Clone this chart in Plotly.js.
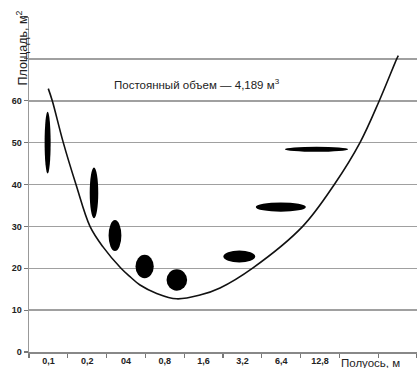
<!DOCTYPE html>
<html>
<head>
<meta charset="utf-8">
<script src="https://cdn.plot.ly/plotly-3.0.1.min.js"></script>
<style>html,body{margin:0;padding:0;background:#fff;}#chart{width:417px;height:368px;}</style>
</head>
<body>
<div id="chart"></div>
<script>
// X categories (semi-axis, m) — bins 0..9 on a linear axis
const categories = ['0,1', '0,2', '04', '0,8', '1,6', '3,2', '6,4', '12,8'];
const categoryPos = [0.5, 1.5, 2.5, 3.5, 4.5, 5.5, 6.5, 7.5];
// Y ticks
const yTickVals = [0, 10, 20, 30, 40, 50, 60, 70, 80];
const yTickText = ['0', '10', '20', '30', '40', '50', '60', ' ', ' '];
// Area curve (constant volume)
const curveX = [0.497, 0.60, 0.884, 1.211, 1.572, 1.907, 2.371, 2.603, 2.861, 3.291, 3.807, 4.407, 4.923, 5.773, 7.054, 7.869, 8.531, 9.028, 9.477, 9.518];
const curveY = [62.9, 60.0, 50.0, 40.0, 30.0, 25.1, 20.0, 18.0, 16.0, 14.0, 12.7, 13.6, 15.3, 20.1, 30.0, 40.0, 50.0, 60.0, 70.0, 70.8];
// Ellipses (center x, center y, width, height in axis units)
const ellX = [0.48, 1.675, 2.216, 2.98, 3.81, 5.42, 6.49, 7.41];
const ellY = [50.0, 38.0, 27.8, 20.4, 17.2, 22.8, 34.6, 48.4];
const ellW = [0.155, 0.22, 0.33, 0.47, 0.53, 0.82, 1.29, 1.63];
const ellH = [14.8, 12.1, 7.4, 5.6, 5.1, 2.9, 2.2, 1.2];

const shapes = ellX.map((cx, i) => ({
  type: 'circle', xref: 'x', yref: 'y',
  x0: cx - ellW[i] / 2, x1: cx + ellW[i] / 2,
  y0: ellY[i] - ellH[i] / 2, y1: ellY[i] + ellH[i] / 2,
  fillcolor: '#000', line: {width: 0}
}));

const traces = [{
  x: curveX, y: curveY, type: 'scatter', mode: 'lines',
  line: {color: '#111', width: 1.6, shape: 'spline', smoothing: 1},
  hoverinfo: 'skip', showlegend: false
}];

const layout = {
  width: 417, height: 368,
  margin: {l: 29, r: 0, t: 17, b: 16},
  paper_bgcolor: '#fff', plot_bgcolor: '#fff',
  font: {family: 'Liberation Sans, Arial, sans-serif', color: '#222'},
  showlegend: false,
  xaxis: {
    range: [0, 10], fixedrange: true,
    tickmode: 'array', tickvals: categoryPos, ticktext: categories,
    ticks: '', showgrid: false, zeroline: false,
    showline: true, linecolor: '#888', linewidth: 1.5,
    tickfont: {size: 9, family: 'Liberation Sans, Arial, sans-serif', color: '#222', weight: 'bold'},
    minor: {tick0: 0, dtick: 1, ticks: 'outside', ticklen: 4, tickwidth: 1.2, tickcolor: '#777', showgrid: false}
  },
  yaxis: {
    range: [0, 80], fixedrange: true,
    tickmode: 'array', tickvals: yTickVals, ticktext: yTickText,
    ticks: 'outside', ticklen: 4, tickwidth: 1.2, tickcolor: '#777',
    showgrid: true, gridcolor: '#a0a0a0', gridwidth: 1.5, zeroline: false,
    showline: true, linecolor: '#999', linewidth: 1.5,
    tickfont: {size: 9, family: 'Liberation Sans, Arial, sans-serif', color: '#222', weight: 'bold'}
  },
  shapes: shapes,
  annotations: [
    {text: 'Постоянный объем — 4,189 м<sup>3</sup>', xref: 'x', yref: 'y', x: 4.34, y: 63.9,
     showarrow: false, font: {size: 11.5, color: '#222', family: 'Liberation Sans, Arial, sans-serif'}},
    {text: 'Полуось, м', xref: 'x', yref: 'paper', x: 8.0, y: 0, xanchor: 'left', yanchor: 'top', yshift: -3,
     showarrow: false, font: {size: 11.5, color: '#222', family: 'Liberation Sans, Arial, sans-serif'}},
    {text: 'Площадь, м<sup>2</sup>', xref: 'paper', yref: 'y', x: 0, y: 72.5, xshift: -17, textangle: -90,
     showarrow: false, font: {size: 12.5, color: '#222', family: 'Liberation Sans, Arial, sans-serif'}}
  ]
};

Plotly.newPlot('chart', traces, layout, {displayModeBar: false, staticPlot: true});
</script>
</body>
</html>
